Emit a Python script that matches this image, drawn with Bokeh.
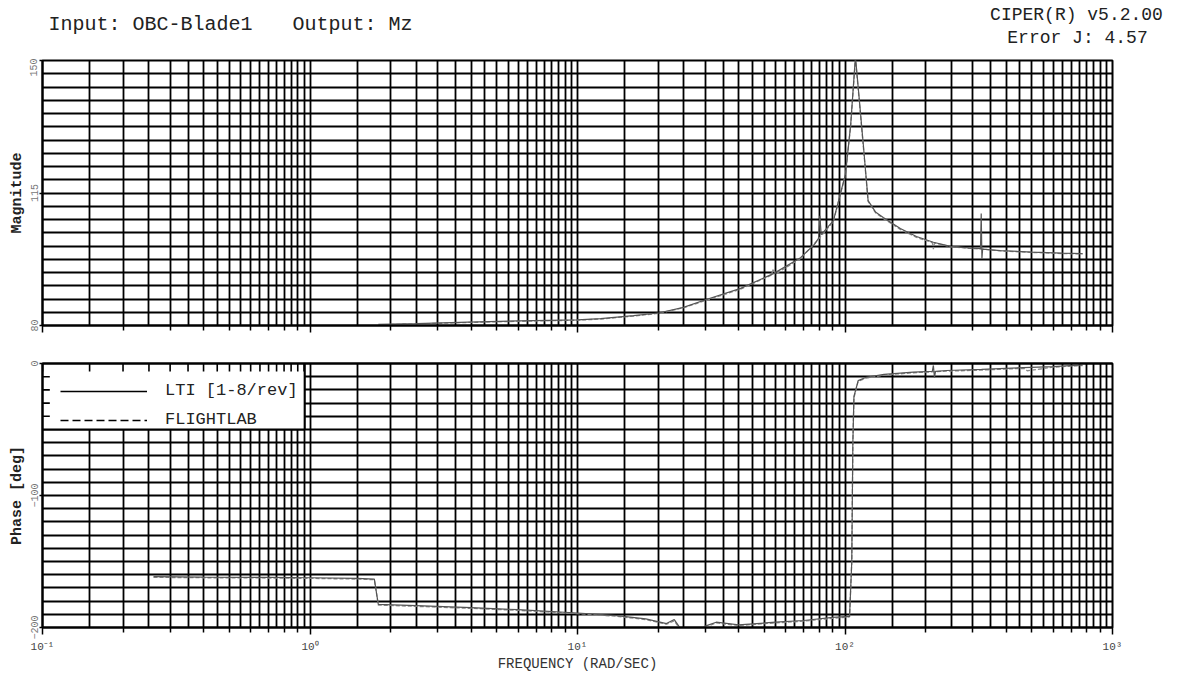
from bokeh.plotting import figure
from bokeh.models import FixedTicker, LogAxis, Legend, LegendItem, Range1d
from bokeh.layouts import column, row
from bokeh.embed import file_html
from bokeh.resources import INLINE
from bokeh.core.properties import value

FONT = "Liberation Mono"

# ---------------- texts ----------------
title_input = "Input: OBC-Blade1"
title_output = "Output: Mz"
version_text = "CIPER(R) v5.2.00"
error_text = "Error J: 4.57"
mag_label = "Magnitude"
phase_label = "Phase [deg]"
x_label = "FREQUENCY (RAD/SEC)"
legend_labels = ["LTI [1-8/rev]", "FLIGHTLAB"]

# ---------------- ticks ----------------
x_decades = [0.1, 1, 10, 100, 1000]
x_decade_labels = ["10\u207b\u00b9", "10\u2070", "10\u00b9", "10\u00b2", "10\u00b3"]
mag_ticks = [80, 115, 150]
phase_ticks = [-200, -100, 0]

# ---------------- data (rad/s, dB / deg) ----------------
mag_freq_lti = [1.8, 2.5, 3.9, 6.0, 10, 12.2, 16.2, 20.1, 24.9, 30.1, 40.7, 54, 68.2,
                77, 79.6, 80.5, 81.5, 90.5, 100.4, 105, 109.4, 113, 117, 122, 130, 139,
                161, 185, 214, 248, 290, 321, 323, 325, 327, 381, 500, 650, 773]
mag_lti = [80.3, 80.5, 80.9, 81.2, 81.5, 81.8, 82.6, 83.3, 84.8, 86.8, 89.8, 93.7, 97.9,
           101.5, 103.0, 109.0, 104.0, 107.7, 120.0, 133.0, 151.0, 140.0, 128.0, 113.0, 110.0, 108.5,
           105.6, 103.5, 102.0, 100.9, 100.5, 100.3, 109.6, 97.7, 100.2, 99.8, 99.4, 99.1, 99.0]

mag_freq_fl = [1.8, 2.5, 3.9, 6.0, 10, 12.2, 16.2, 20.1, 24.9, 30.1, 40.7, 53, 54, 55, 68.2,
               79.6, 90.5, 100.4, 105, 109.4, 113, 117, 122, 130, 139, 161, 185, 212, 214, 216,
               248, 290, 324, 381, 500, 650, 773]
mag_fl = [80.2, 80.4, 80.8, 81.1, 81.4, 81.7, 82.5, 83.2, 84.7, 86.6, 89.6, 93.3, 95.0, 93.6, 97.7,
          102.8, 107.5, 119.8, 132.8, 150.5, 139.5, 127.5, 112.8, 109.8, 108.3, 105.4, 103.3, 101.9, 100.2, 101.8,
          100.8, 100.4, 100.2, 99.7, 99.3, 99.0, 98.9]

ph_freq_lti = [0.26, 0.4, 0.7, 1.0, 1.5, 1.74, 1.8, 2.5, 4, 6, 10, 14, 18, 21.5, 23,
               24.5, 28, 30, 33, 40, 55, 70, 90, 104, 106, 107, 108, 112, 120, 140,
               180, 212, 214, 216, 218, 240, 324, 420, 600, 773]
ph_lti = [-161.5, -161.8, -162.0, -162.3, -162.8, -163.3, -182.5, -183.5, -185.0, -186.5, -189.0,
          -191.0, -193.5, -197.0, -194.0, -202.0, -203.0, -199.0, -196.0, -198.0, -196.0, -194.7,
          -192.4, -191.6, -150.0, -60.0, -25.0, -13.0, -10.4, -8.3, -6.6, -6.0, -1.5, -10.5, -6.0,
          -5.3, -4.5, -3.5, -2.3, -1.0]

ph_freq_fl = [0.26, 0.4, 0.7, 1.0, 1.5, 1.74, 1.8, 2.5, 4, 6, 10, 14, 18, 21.5, 23,
              24.5, 28, 30, 33, 40, 55, 70, 90, 104, 106, 107, 108, 112, 120, 140,
              180, 240, 324, 420, 470, 480, 600, 773]
ph_fl = [-162.0, -162.3, -162.5, -162.8, -163.3, -163.8, -183.0, -184.0, -185.5, -187.0, -189.5,
         -191.5, -194.0, -197.5, -195.0, -203.0, -204.0, -200.0, -196.5, -198.5, -196.5, -195.2,
         -193.0, -192.0, -150.0, -60.0, -26.0, -13.5, -11.0, -8.8, -7.0, -5.8, -5.0, -4.0, -3.8, -5.5,
         -2.8, -1.5]

# ---------------- styling helpers ----------------
grid_mults = [1, 1.5, 2, 2.5, 3, 3.5, 4, 4.5, 5, 5.5, 6, 6.5, 7, 7.5, 8, 8.5, 9, 9.5]
x_grid = [d * m for d in x_decades[:-1] for m in grid_mults] + [x_decades[-1]]
x_minor = [d * m for d in x_decades[:-1] for m in range(2, 10)]
mag_grid = [80 + 3.5 * k for k in range(21)]
phase_grid = [-200 + 10 * k for k in range(21)]

# legend panel extent (frequency / deg), a style element not data
LEG_LEFT, LEG_RIGHT, LEG_TOP, LEG_BOTTOM = 0.1, 0.955, 0, -50
TICK_DEG = 6.0          # inner tick length on the phase top edge (deg)
TICK_FACTOR = 1.065     # inner tick length on the left edge (frequency ratio)

W_FRAME = 1070
LEFT, RIGHT = 42, 64
TOTAL_W = LEFT + W_FRAME + RIGHT


def style(p):
    p.background_fill_color = "white"
    p.border_fill_color = "white"
    p.outline_line_color = "black"
    p.outline_line_width = 2
    for g in (p.xgrid, p.ygrid):
        g.grid_line_color = "black"
        g.grid_line_width = 1.8
        g.grid_line_alpha = 1.0
    p.xgrid.ticker = FixedTicker(ticks=x_grid)
    ax = p.xaxis[0]
    ax.ticker = FixedTicker(ticks=x_decades, minor_ticks=x_minor)
    ax.axis_line_color = "black"
    ax.axis_line_width = 2
    ax.major_tick_line_color = "black"
    ax.minor_tick_line_color = "black"
    ax.major_tick_line_width = 1.5
    ax.minor_tick_line_width = 1.5
    ax.major_tick_in = 0
    ax.major_tick_out = 7
    ax.minor_tick_in = 0
    ax.minor_tick_out = 5
    ay = p.yaxis[0]
    ay.axis_line_color = "black"
    ay.axis_line_width = 2
    ay.major_tick_line_color = "black"
    ay.major_tick_line_width = 1.5
    ay.major_tick_in = 0
    ay.major_tick_out = 3
    ay.minor_tick_in = 0
    ay.minor_tick_out = 0
    ay.major_label_orientation = "vertical"
    ay.major_label_standoff = 2
    ay.major_label_text_font = FONT
    ay.major_label_text_font_size = "10px"
    ay.major_label_text_color = "#777777"
    ay.axis_label_standoff = 2
    ay.axis_label_text_font = FONT
    ay.axis_label_text_font_size = "15px"
    ay.axis_label_text_font_style = "bold"
    ay.axis_label_text_color = "#222222"


# ---------------- header ----------------
HDR_H = 58
hdr = figure(width=TOTAL_W, height=HDR_H, x_range=Range1d(0, TOTAL_W), y_range=Range1d(HDR_H, 0),
             toolbar_location=None, output_backend="svg", min_border=0,
             x_axis_location=None, y_axis_location=None)
hdr.grid.visible = False
hdr.outline_line_color = None
hdr.text(x=[48], y=[24], text=[title_input], text_font=value(FONT), text_font_size="20px",
         text_align="left", text_baseline="alphabetic", text_color="#222222")
hdr.text(x=[292], y=[24], text=[title_output], text_font=value(FONT), text_font_size="20px",
         text_align="left", text_baseline="alphabetic", text_color="#222222")
hdr.text(x=[1076], y=[14], text=[version_text], text_font=value(FONT), text_font_size="18px",
         text_align="center", text_baseline="alphabetic", text_color="#222222")
hdr.text(x=[1077], y=[37], text=[error_text], text_font=value(FONT), text_font_size="18px",
         text_align="center", text_baseline="alphabetic", text_color="#222222")

# ---------------- magnitude ----------------
p1 = figure(x_axis_type="log", x_range=Range1d(0.1, 1000), y_range=Range1d(80, 150),
            frame_width=W_FRAME, frame_height=265, toolbar_location=None, output_backend="svg",
            min_border_left=LEFT, min_border_right=RIGHT, min_border_top=2, min_border_bottom=19)
style(p1)
p1.ygrid.ticker = FixedTicker(ticks=mag_grid)
p1.yaxis.ticker = FixedTicker(ticks=mag_ticks, minor_ticks=[])
p1.yaxis.axis_label = mag_label
p1.xaxis.major_label_text_font_size = "1px"
p1.xaxis.major_label_text_alpha = 0
p1.xaxis.major_label_standoff = 0

p1.line(mag_freq_fl, mag_fl, line_color="#8a8a8a", line_width=1.3, line_dash="4 2")
p1.line(mag_freq_lti, mag_lti, line_color="#555555", line_width=1.2)

# ---------------- phase ----------------
p2 = figure(x_axis_type="log", x_range=p1.x_range, y_range=Range1d(-200, 0),
            frame_width=W_FRAME, frame_height=264, toolbar_location=None, output_backend="svg",
            min_border_left=LEFT, min_border_right=RIGHT, min_border_top=19, min_border_bottom=40)
style(p2)
p2.ygrid.ticker = FixedTicker(ticks=phase_grid)
p2.yaxis.ticker = FixedTicker(ticks=phase_ticks, minor_ticks=[])
p2.yaxis.axis_label = phase_label
p2.xaxis.major_label_overrides = {v: s for v, s in zip(x_decades, x_decade_labels)}
p2.xaxis.major_label_text_font = FONT
p2.xaxis.major_label_text_font_size = "11px"
p2.xaxis.major_label_text_color = "#444444"
p2.xaxis.major_label_standoff = 6
p2.xaxis.axis_label = x_label
p2.xaxis.axis_label_text_font = FONT
p2.xaxis.axis_label_text_font_size = "14px"
p2.xaxis.axis_label_text_font_style = "normal"
p2.xaxis.axis_label_text_color = "#333333"
p2.xaxis.axis_label_standoff = 0

# white legend panel drawn as a glyph (covers the grid)
p2.quad(left=[LEG_LEFT], right=[LEG_RIGHT], top=[LEG_TOP], bottom=[LEG_BOTTOM],
        fill_color="white", fill_alpha=1.0, line_color="black", line_width=2)

# inner tick marks along the top and left edges of the legend panel
top_tick_x = [x for x in x_grid if x <= LEG_RIGHT]
left_tick_y = [y for y in phase_grid if LEG_BOTTOM < y < LEG_TOP]
p2.segment(x0=top_tick_x, y0=[LEG_TOP] * len(top_tick_x),
           x1=top_tick_x, y1=[LEG_TOP - TICK_DEG] * len(top_tick_x),
           line_color="black", line_width=1.6)
p2.segment(x0=[LEG_LEFT] * len(left_tick_y), y0=left_tick_y,
           x1=[LEG_LEFT * TICK_FACTOR] * len(left_tick_y), y1=left_tick_y,
           line_color="black", line_width=1.6)

p2.line(ph_freq_fl, ph_fl, line_color="#8a8a8a", line_width=1.3, line_dash="4 2")
p2.line(ph_freq_lti, ph_lti, line_color="#555555", line_width=1.2)

# legend samples (black)
nan = float("nan")
r_lti = p2.line(x=[nan], y=[nan], line_color="black", line_width=1.5)
r_fl = p2.line(x=[nan], y=[nan], line_color="black", line_width=1.5, line_dash="8 4")
legend = Legend(items=[LegendItem(label=legend_labels[0], renderers=[r_lti]),
                       LegendItem(label=legend_labels[1], renderers=[r_fl])],
                location="top_left", margin=18, padding=0, spacing=10,
                glyph_width=87, glyph_height=16, label_height=16, label_standoff=18,
                label_text_font=FONT, label_text_font_size="17px", label_text_color="#222222",
                border_line_color=None, background_fill_alpha=0.0)
p2.add_layout(legend)

top_axis = LogAxis(ticker=FixedTicker(ticks=x_decades, minor_ticks=[]))
top_axis.major_label_text_font_size = "1px"
top_axis.major_label_text_alpha = 0
top_axis.major_label_standoff = 0
top_axis.axis_line_color = "black"
top_axis.axis_line_width = 2
top_axis.major_tick_in = 0
top_axis.major_tick_out = 0
top_axis.minor_tick_in = 0
top_axis.minor_tick_out = 0
p2.add_layout(top_axis, "above")

layout = column(row(hdr), p1, p2, spacing=0)
open("out.html", "w").write(file_html(layout, INLINE))
